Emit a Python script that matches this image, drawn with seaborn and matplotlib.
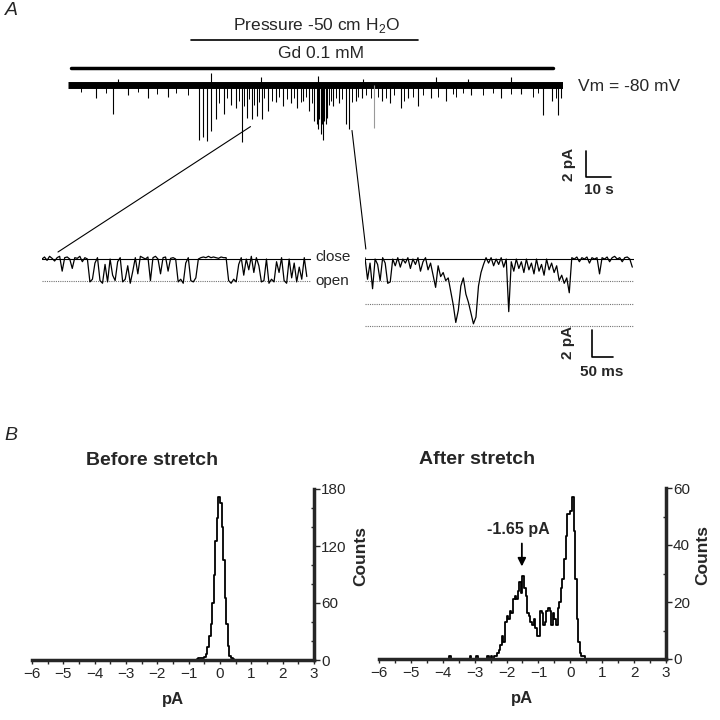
import numpy as np
import pandas as pd
import matplotlib.pyplot as plt
import seaborn as sns
from matplotlib.patches import ConnectionPatch
from matplotlib.ticker import MultipleLocator

sns.set_style('ticks')
plt.rcParams['font.family'] = ['Liberation Sans', 'DejaVu Sans']
plt.rcParams['mathtext.fontset'] = 'custom'
plt.rcParams['mathtext.rm'] = 'Liberation Sans'

# ---- panel A: long recording (time in s, current in pA below baseline) ----
trace_span = [0, 198]
pressure_on = [49, 140]
gd_on = [1, 194]
event_t = [11, 18, 24, 32, 40, 52.4, 54, 55.6, 57, 59, 62.4, 65, 67, 69.6, 71.6,
           73.6, 75.6, 77.6, 80, 83, 86, 89, 91.6, 94, 96.4, 98.4, 99.5, 100,
           100.5, 101, 101.5, 102, 102.5, 103, 103.6, 106, 108.4, 111, 112.4,
           115, 117.6, 125.6, 128.8, 133, 136, 140, 145, 151, 161, 173, 181,
           190, 193.6, 196, 197]
event_amp = [1.0, 2.2, 0.8, 1.0, 0.9, 4.2, 4.0, 4.3, 3.5, 2.6, 2.2, 1.5, 1.8, 4.4, 2.5,
             2.6, 2.4, 2.6, 2.0, 1.3, 1.6, 1.4, 1.8, 1.2, 2.0, 2.8, 3.0, 3.4,
             2.6, 3.8, 3.0, 4.2, 2.8, 3.0, 2.5, 1.6, 1.4, 3.0, 3.4,
             1.2, 1.0, 1.2, 1.4, 1.8, 1.0, 1.6, 1.0, 1.2, 0.8, 1.0, 0.7,
             2.3, 1.2, 2.3, 1.0]
small_t = [5, 15, 28, 35.6, 43, 48, 60.5, 63.5, 68.5, 70.5, 72.5, 74.5, 76.5,
           78.5, 81.5, 84.5, 87.5, 90.5, 93, 95, 97.5, 104.5, 105, 107, 109.5,
           113.5, 116, 119, 121, 124, 127, 130.5, 134.5, 138, 142, 148, 154,
           155, 158, 166, 170, 177, 186, 188, 195]
small_amp = [0.5, 0.6, 0.5, 0.7, 0.6, 0.8, 1.4, 1.0, 1.2, 1.6, 1.1, 1.5, 1.3,
             1.0, 1.2, 0.9, 1.1, 1.0, 1.3, 0.9, 1.4, 1.5, 1.2, 1.0, 1.1,
             1.3, 0.9, 0.8, 1.0, 0.9, 1.0, 0.8, 1.2, 0.9, 0.8, 0.9, 0.7,
             0.9, 0.6, 0.8, 0.6, 0.7, 0.9, 0.6, 1.0]
gray_t = [122.4]
gray_amp = [3.3]
up_t = [20, 57, 77, 100, 118, 147, 160, 177]
up_amp = [0.5, 0.9, 0.6, 0.7, 0.5, 0.6, 0.5, 0.6]

# ---- panel A: expanded traces (6 ms per sample, pA) ----
sample_ms = 6
left_trace = [0.0, 0.15, -0.1, 0.2, 0.05, -0.15, 0.1, 0.2, -0.9, 0.1,
              0.15, 0.0, -0.7, 0.1, 0.05, 0.2, -0.2, 0.1, 0.0,
              -1.7, -1.5, -0.3, 0.1, -1.6, -1.8, -0.4, -1.7, 0.0, -1.2,
              -1.6, -0.2, 0.1, -1.7, -1.5, -0.5, -1.8, -0.9, 0.1, -1.1,
              0.2, 0.1, 0.0, 0.15, -1.6, 0.1, 0.2, 0.0, -1.1, 0.1,
              0.15, -0.9, 0.05, 0.1, 0.0,
              -1.7, -1.5, -1.8, -0.3, 0.1, -1.6, -1.7, -1.4, 0.0,
              0.1, 0.15, 0.1, 0.2, 0.1, 0.15, 0.1, 0.05, 0.15, 0.1, 0.1,
              -1.6, -1.8, -1.5, -1.7, -0.4,
              0.1, -1.2, 0.0, -0.8, 0.2, -1.0, 0.1, -0.5,
              -1.7, -1.6, 0.0, -1.8, -1.5, -1.7, -0.2, -1.0, 0.1, -1.6,
              -1.8, 0.0, -1.4, -0.3, -1.7, -0.6, -1.5, 0.1, -1.3]
right_trace = [0.1, -1.5, -0.3, -2.2, 0.0, -0.4, -1.6, 0.1, -0.3, -1.8,
               -1.7, 0.0, -0.5, 0.1, -0.6, 0.0, -0.3, 0.1, -0.7, 0.0,
               -0.4, 0.1, -0.9, -0.2, 0.1, -0.8, -0.3, -1.2, -2.1, -0.5,
               -1.3, -1.0, -1.6, -1.4, -2.4, -3.4, -4.7, -3.8, -2.0, -1.4,
               -2.6, -3.2, -4.0, -4.8, -4.3, -2.0, -1.0, -0.4, 0.1, -0.3,
               0.1, -0.5, 0.0, -0.4, 0.1, -0.6, 0.0, -3.9, -0.2, -0.9,
               0.0, -0.7, -0.2, -1.0, 0.0, -0.8, -0.3, -1.1, 0.0, -0.9,
               -0.4, -1.2, 0.0, -0.8, -0.3, -1.0, -0.5, -1.6, -1.2, -1.8,
               -1.4, -2.5, 0.1, 0.0, 0.15, -0.2, 0.1, 0.0, 0.15, -0.3,
               0.1, 0.0, 0.1, -1.1, 0.1, 0.0, 0.15, -0.2, 0.1, 0.2,
               0.0, 0.1, -0.2, 0.1, 0.15, 0.0, -0.6]
unit_levels = [-1.65, -3.3, -4.95]

# ---- panel B: amplitude histograms (bin width 0.05 pA) ----
bin_w = 0.05
before_start = -0.75
before_counts = [1, 2, 2, 2, 2, 3, 6, 14, 25, 38, 60, 90, 125, 150, 172,
                 165, 140, 105, 65, 38, 15, 4, 2, 1]
after_start = -2.40
after_counts = [1, 1, 2, 3, 5, 8, 6, 13, 15, 14, 17, 16, 21, 22, 21, 24, 27, 23,
                29, 25, 22, 16, 15, 13, 12, 14, 11, 8, 8, 17, 16, 12, 13, 17,
                18, 17, 12, 16, 14, 12, 18, 20, 25, 28, 35, 43, 51, 51, 52, 57,
                45, 28, 14, 6, 2, 1, 1]
after_outliers = [-3.775, -3.125, -2.925, -2.575, -2.475]
after_outlier_counts = [1, 1, 1, 1, 1]

fig = plt.figure(figsize=(7.2, 7.2), dpi=100)


def px_axes(left, top, width, height):
    return fig.add_axes([left / 720, 1 - (top + height) / 720, width / 720, height / 720])


# main trace
ax = px_axes(68, 10, 495, 140)
ax.set_xlim(0, 198)
ax.set_ylim(-5.0, 5.77)
ax.axis('off')
ax.plot(trace_span, [0, 0], color='black', lw=5.0, solid_capstyle='butt')
ax.vlines(event_t, 0, -np.array(event_amp), color='black', lw=0.8)
ax.vlines(small_t, 0, -np.array(small_amp), color='black', lw=0.7)
ax.vlines(gray_t, 0, -np.array(gray_amp), color='0.6', lw=0.8)
ax.vlines(up_t, 0, up_amp, color='black', lw=0.8)
ax.plot(pressure_on, [3.46, 3.46], color='black', lw=1.2)
ax.plot(gd_on, [1.31, 1.31], color='black', lw=2.5)
ax.text(99.6, 4.6, 'Pressure -50 cm H$_\\mathregular{2}$O', ha='center', va='center', fontsize=12.5)
ax.text(101, 2.4, 'Gd 0.1 mM', ha='center', va='center', fontsize=12.5)
ax.text(204, -0.15, 'Vm = -80 mV', ha='left', va='center', fontsize=12.5)
# scale bar 2 pA / 10 s
ax.plot([207, 207, 217], [-5.08, -7.08, -7.08], color='black', lw=1.2, clip_on=False)
ax.text(200.5, -6.1, '2 pA', rotation=90, ha='center', va='center', fontsize=11, fontweight='bold')
ax.text(212.4, -8.1, '10 s', ha='center', va='center', fontsize=11, fontweight='bold')
ax.text(-22.6, 5.7, 'A', fontsize=14, fontstyle='italic', ha='center', va='center')
ax_main = ax

# expanded traces
axl = px_axes(42, 245, 269, 45)
axl.set_xlim(0, 640)
axl.set_ylim(-2.3, 1.04)
axl.axis('off')
axl.axhline(0, color='black', lw=0.8)
axl.axhline(-1.65, color='0.45', lw=0.8, ls=(0, (1, 1)))
sns.lineplot(x=np.arange(len(left_trace)) * sample_ms, y=left_trace, ax=axl,
             color='black', lw=0.9, estimator=None)
axl.text(650, 0.15, 'close', ha='left', va='center', fontsize=11)
axl.text(650, -1.6, 'open', ha='left', va='center', fontsize=11)

axr = px_axes(365, 245, 269, 90)
axr.set_xlim(0, 640)
axr.set_ylim(-5.63, 1.04)
axr.axis('off')
axr.axhline(0, color='black', lw=0.8)
for lv in unit_levels:
    axr.axhline(lv, color='0.45', lw=0.8, ls=(0, (1, 1)))
sns.lineplot(x=np.arange(len(right_trace)) * sample_ms, y=right_trace, ax=axr,
             color='black', lw=0.9, estimator=None)
axr.plot([540, 540, 590], [-5.26, -7.26, -7.26], color='black', lw=1.2, clip_on=False)
axr.text(483, -6.2, '2 pA', rotation=90, ha='center', va='center', fontsize=11, fontweight='bold')
axr.text(564, -8.4, '50 ms', ha='center', va='center', fontsize=11, fontweight='bold')

for axz, start, end in [(axl, (73, -3.2), (38, 0.52)), (axr, (113.6, -3.5), (2, 0.74))]:
    con = ConnectionPatch(xyA=start, coordsA=ax_main.transData, xyB=end, coordsB=axz.transData,
                          color='black', lw=0.8)
    fig.add_artist(con)


# histograms
def hist_panel(ax, start, counts, ymax, yticks, label_x, extra_x=None, extra_w=None):
    centers = start + bin_w / 2 + bin_w * np.arange(len(counts))
    x = list(centers)
    w = list(counts)
    if extra_x is not None:
        x += extra_x
        w += extra_w
    df = pd.DataFrame({'pA': x, 'n': w})
    sns.histplot(data=df, x='pA', weights='n', binwidth=bin_w, binrange=(-6, 3),
                 element='step', fill=False, color='black', linewidth=1.3, ax=ax)
    ax.set_xlim(-6, 3)
    ax.set_ylim(0, ymax)
    sns.despine(ax=ax, left=True, top=True, right=False)
    for s in ['bottom', 'right']:
        ax.spines[s].set_linewidth(2.5)
    ax.yaxis.tick_right()
    ax.set_xticks(range(-6, 4))
    ax.xaxis.set_minor_locator(MultipleLocator(0.5))
    ax.set_yticks(yticks)
    ax.yaxis.set_minor_locator(MultipleLocator(yticks[1] / 3))
    ax.tick_params(axis='x', which='both', direction='out', length=3, width=1, labelsize=11, pad=2)
    ax.tick_params(axis='y', which='major', direction='out', length=4, width=1, labelsize=11, pad=1)
    ax.tick_params(axis='y', which='minor', direction='in', length=2, width=1)
    ax.set_xlabel('pA', fontsize=12, fontweight='bold', labelpad=8)
    ax.set_ylabel('')
    ax.text(label_x, 0.61, 'Counts', rotation=90, transform=ax.transAxes,
            ha='center', va='center', fontsize=12.5, fontweight='bold')


axb = px_axes(32, 489, 282, 171)
hist_panel(axb, before_start, before_counts, 180, [0, 60, 120, 180], 1.167)
axb.text(-2.17, 210, 'Before stretch', ha='center', va='center', fontsize=14, fontweight='bold')
axb.text(-6.67, 236, 'B', fontsize=14, fontstyle='italic', ha='center', va='center')

axa = px_axes(379, 488, 287, 171)
hist_panel(axa, after_start, after_counts, 60, [0, 20, 40, 60], 1.129,
           after_outliers, after_outlier_counts)
axa.yaxis.set_minor_locator(MultipleLocator(10))
axa.text(-2.93, 70, 'After stretch', ha='center', va='center', fontsize=14, fontweight='bold')
axa.annotate('', xy=(-1.52, 31.5), xytext=(-1.52, 41.5),
             arrowprops=dict(arrowstyle='-|>', color='black', lw=1.3, mutation_scale=12))
axa.text(-1.64, 45.3, '-1.65 pA', ha='center', va='center', fontsize=11.5, fontweight='bold')

fig.savefig('out.png', dpi=100)
